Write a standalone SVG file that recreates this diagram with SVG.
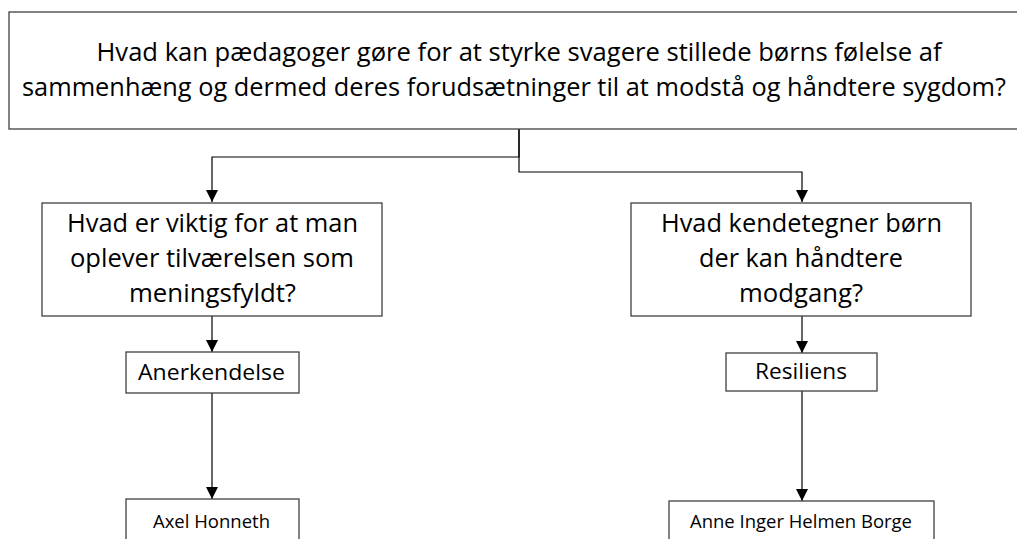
<svg xmlns="http://www.w3.org/2000/svg" width="1017" height="539" viewBox="0 0 1017 539">
<style>
.box{fill:#fff;stroke:#404040;stroke-width:1.3}
.t{font-family:"Open Sans","Liberation Sans",sans-serif;font-weight:400;fill:#000;text-anchor:middle}
.conn{fill:none;stroke:#000;stroke-width:1.2}
</style>
<defs>
<marker id="arr" markerWidth="12" markerHeight="12" refX="12" refY="6" orient="auto" markerUnits="userSpaceOnUse">
<path d="M0,0 L12,6 L0,12 Z" fill="#000"/>
</marker>
</defs>
<rect width="1017" height="539" fill="#fff"/>
<g id="connectors">
<path class="conn" d="M519,129 V157 H212 V202" marker-end="url(#arr)"/>
<path class="conn" d="M519,129 V172 H802 V202" marker-end="url(#arr)"/>
<path class="conn" d="M212,316 V352" marker-end="url(#arr)"/>
<path class="conn" d="M212,393 V499" marker-end="url(#arr)"/>
<path class="conn" d="M802,316 V353" marker-end="url(#arr)"/>
<path class="conn" d="M802,391 V501" marker-end="url(#arr)"/>
</g>
<g id="top">
<rect class="box" x="9" y="12" width="1010" height="117"/>
<text class="t" x="519" y="61" font-size="25" textLength="845" lengthAdjust="spacingAndGlyphs">Hvad kan pædagoger gøre for at styrke svagere stillede børns følelse af</text>
<text class="t" x="514" y="96" font-size="25" textLength="984" lengthAdjust="spacingAndGlyphs">sammenhæng og dermed deres forudsætninger til at modstå og håndtere sygdom?</text>
</g>
<g id="q1">
<rect class="box" x="42" y="203" width="340" height="113"/>
<text class="t" x="212.5" y="232" font-size="25" textLength="291" lengthAdjust="spacingAndGlyphs">Hvad er viktig for at man</text>
<text class="t" x="212" y="267" font-size="25" textLength="284" lengthAdjust="spacingAndGlyphs">oplever tilværelsen som</text>
<text class="t" x="212.5" y="302" font-size="25" textLength="167" lengthAdjust="spacingAndGlyphs">meningsfyldt?</text>
</g>
<g id="q2">
<rect class="box" x="631" y="203" width="340" height="113"/>
<text class="t" x="801.5" y="232" font-size="25" textLength="281" lengthAdjust="spacingAndGlyphs">Hvad kendetegner børn</text>
<text class="t" x="801" y="267" font-size="25" textLength="204" lengthAdjust="spacingAndGlyphs">der kan håndtere</text>
<text class="t" x="801" y="302" font-size="25" textLength="124" lengthAdjust="spacingAndGlyphs">modgang?</text>
</g>
<g id="anerkendelse">
<rect class="box" x="126" y="352" width="173" height="41"/>
<text class="t" x="211.5" y="380" font-size="21" textLength="147" lengthAdjust="spacingAndGlyphs">Anerkendelse</text>
</g>
<g id="resiliens">
<rect class="box" x="726" y="353" width="151" height="38"/>
<text class="t" x="801" y="379" font-size="21" textLength="92" lengthAdjust="spacingAndGlyphs">Resiliens</text>
</g>
<g id="honneth">
<rect class="box" x="126" y="499" width="173" height="60"/>
<text class="t" x="211.5" y="528" font-size="17.5" textLength="117" lengthAdjust="spacingAndGlyphs">Axel Honneth</text>
</g>
<g id="borge">
<rect class="box" x="669" y="501" width="265" height="60"/>
<text class="t" x="801" y="528" font-size="17.5" textLength="222" lengthAdjust="spacingAndGlyphs">Anne Inger Helmen Borge</text>
</g>
</svg>
